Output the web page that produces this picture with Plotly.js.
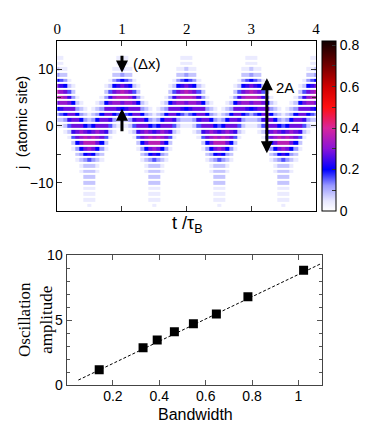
<!DOCTYPE html>
<html>
<head>
<meta charset="utf-8">
<script src="https://cdn.plot.ly/plotly-3.0.1.min.js"></script>
<style>
  html, body { margin: 0; padding: 0; background: #fff; }
  #chart { width: 374px; height: 423px; }
</style>
</head>
<body>
<div id="chart"></div>
<script>
// top panel: density |psi_j(t)|^2, one string per site j (15 .. -15),
// one digit per time step t = k/16, digit * 0.04 = density
var siteJ = [15, 14, 13, 12, 11, 10, 9, 8, 7, 6, 5, 4, 3, 2, 1, 0,
  -1, -2, -3, -4, -5, -6, -7, -8, -9, -10, -11, -12, -13, -14, -15];
var densityRows = [
  "00000000000000000000000000000000000000000000000000000000000000000",
  "00000000000000000000000000000000000000000000000000000000000000000",
  "00000000000000000000000000000000000000000000000000000000000000000",
  "11000000000000011100000000000001110000000000000111000000000000011",
  "11000000000000011100000000000001110000000000000111000000000000011",
  "21100000000000112110000000000011211000000000001121100000000000112",
  "32200000000000223220000000000022322000000000002232200000000000223",
  "54310000000001345431000000000134543100000000013454310000000001345",
  "76521000000012567652100000001256765210000000125676521000000012567",
  "98742000000024789874200000002478987420000000247898742000000024789",
  "99863100000136899986310000013689998631000001368999863100000136899",
  "78875210001257887887521000125788788752100012578878875210001257887",
  "56777321012377765677732101237776567773210123777656777321012377765",
  "34577532123577543457753212357754345775321235775434577532123577543",
  "22367753235776322236775323577632223677532357763222367753235776322",
  "11247775457774211124777545777421112477754577742111247775457774211",
  "00126787678762100012678767876210001267876787621000126787678762100",
  "00014789898741000001478989874100000147898987410000014789898741000",
  "00002579997520000000257999752000000025799975200000002579997520000",
  "00001357875310000000135787531000000013578753100000001357875310000",
  "00000235653200000000023565320000000002356532000000000235653200000",
  "00000123432100000000012343210000000001234321000000000123432100000",
  "00000012221000000000001222100000000000122210000000000012221000000",
  "00000012221000000000001222100000000000122210000000000012221000000",
  "00000002220000000000000222000000000000022200000000000002220000000",
  "00000002220000000000000222000000000000022200000000000002220000000",
  "00000001110000000000000111000000000000011100000000000001110000000",
  "00000001110000000000000111000000000000011100000000000001110000000",
  "00000001110000000000000111000000000000011100000000000001110000000",
  "00000000100000000000000010000000000000001000000000000000100000000",
  "00000000000000000000000000000000000000000000000000000000000000000"
];
var timeSteps = [];
for (var k = 0; k < densityRows[0].length; k++) timeSteps.push(k / 16);
var density = densityRows.map(function (row) {
  return row.split('').map(function (c) { return +c * 0.04; });
});

// bottom panel: oscillation amplitude vs bandwidth
var bandwidth = [0.141, 0.330, 0.391, 0.465, 0.547, 0.646, 0.782, 1.022];
var amplitude = [1.18, 2.87, 3.46, 4.10, 4.72, 5.46, 6.79, 8.82];
var fitX = [0.051, 1.1];
var fitY = [0.38, 9.36];

var cbTicks = [0, 0.1, 0.2, 0.3, 0.4, 0.5, 0.6, 0.7, 0.8];
var cbLabels = ['0', '', '0.2', '', '0.4', '', '0.6', '', '0.8'];

var sans = 'Liberation Sans, Arial, sans-serif';
var serif = 'Liberation Serif, Times New Roman, serif';

var heat = {
  type: 'heatmap',
  x: timeSteps,
  y: siteJ,
  z: density,
  zmin: 0,
  zmax: 0.82,
  ygap: 2,
  hoverinfo: 'skip',
  colorscale: [
    [0, '#ffffff'],
    [0.06, '#e6e6ff'],
    [0.15, '#9898ff'],
    [0.244, '#0000ff'],
    [0.366, '#8a14d8'],
    [0.488, '#d8269c'],
    [0.61, '#ff1010'],
    [0.73, '#d00000'],
    [0.86, '#700000'],
    [1, '#100000']
  ],
  colorbar: {
    x: 322 / 374, xanchor: 'left',
    y: 1 - 211 / 423, yanchor: 'bottom',
    len: 170 / 423, lenmode: 'fraction',
    thickness: 14,
    outlinewidth: 1, outlinecolor: '#000',
    tickvals: cbTicks, ticktext: cbLabels,
    ticks: 'inside', ticklen: 4, tickcolor: '#333',
    tickfont: { family: sans, size: 14, color: '#000' },
    xpad: 0, ypad: 0
  }
};

var fit = {
  type: 'scatter', mode: 'lines',
  x: fitX, y: fitY,
  xaxis: 'x2', yaxis: 'y2',
  line: { color: '#000', width: 1, dash: '3px,2px' },
  hoverinfo: 'skip'
};

var points = {
  type: 'scatter', mode: 'markers',
  x: bandwidth, y: amplitude,
  xaxis: 'x2', yaxis: 'y2',
  marker: { symbol: 'square', size: 9, color: '#000' }
};

var arrowStyle = {
  xref: 'x', yref: 'y', axref: 'x', ayref: 'y',
  text: '', showarrow: true, arrowhead: 2, arrowsize: 0.8, arrowwidth: 3,
  arrowcolor: '#000'
};

function label(x, y, text, font, extra) {
  return Object.assign({
    xref: 'paper', yref: 'paper', x: x / 374, y: 1 - y / 423,
    xanchor: 'center', yanchor: 'middle',
    text: text, showarrow: false, font: font
  }, extra || {});
}

var layout = {
  width: 374, height: 423,
  margin: { l: 0, r: 0, t: 0, b: 0 },
  paper_bgcolor: '#fff', plot_bgcolor: '#fff',
  showlegend: false,
  xaxis: {
    domain: [57.3 / 374, 316 / 374], anchor: 'y',
    range: [0, 4], side: 'top', dtick: 1,
    ticks: 'inside', ticklen: 5, tickcolor: '#333',
    showline: true, linecolor: '#000', linewidth: 1, mirror: 'ticks',
    showgrid: false, zeroline: false,
    tickfont: { family: serif, size: 15, color: '#000' }
  },
  yaxis: {
    domain: [1 - 211 / 423, 1 - 40.7 / 423], anchor: 'x',
    range: [-15, 15], tickvals: [-10, 0, 10],
    ticks: 'inside', ticklen: 5, tickcolor: '#333',
    minor: { dtick: 5, ticks: 'inside', ticklen: 4, tickcolor: '#333' },
    showline: true, linecolor: '#000', linewidth: 1, mirror: 'ticks',
    showgrid: false, zeroline: false,
    tickfont: { family: sans, size: 14, color: '#000' }
  },
  xaxis2: {
    domain: [66.5 / 374, 321.7 / 374], anchor: 'y2',
    range: [0, 1.1], tickvals: [0.2, 0.4, 0.6, 0.8, 1],
    ticktext: ['0.2', '0.4', '0.6', '0.8', '1'],
    ticks: 'inside', ticklen: 5, tickcolor: '#555',
    ticklabelstandoff: -2,
    showline: true, linecolor: '#444', linewidth: 1, mirror: 'ticks',
    showgrid: false, zeroline: false,
    tickfont: { family: sans, size: 14, color: '#000' }
  },
  yaxis2: {
    domain: [1 - 385 / 423, 1 - 255 / 423], anchor: 'x2',
    range: [0, 10], tickvals: [0, 5, 10],
    ticks: 'inside', ticklen: 5, tickcolor: '#555',
    minor: { dtick: 1, ticks: 'inside', ticklen: 3, tickcolor: '#555' },
    showline: true, linecolor: '#444', linewidth: 1, mirror: 'ticks',
    showgrid: false, zeroline: false,
    tickfont: { family: sans, size: 14, color: '#000' }
  },
  annotations: [
    Object.assign({ x: 1, y: 9.4, ax: 1, ay: 12.6 }, arrowStyle),
    Object.assign({ x: 1, y: 3.0, ax: 1, ay: -1.2 }, arrowStyle),
    Object.assign({ x: 3.24, y: 8.4, ax: 3.24, ay: -5.1, arrowside: 'end+start' }, arrowStyle),
    { xref: 'x', yref: 'y', x: 1.38, y: 11.0, xanchor: 'center', yanchor: 'middle',
      text: '(\u0394x)', showarrow: false,
      font: { family: sans, size: 15, color: '#000' } },
    { xref: 'x', yref: 'y', x: 3.52, y: 6.7, xanchor: 'center', yanchor: 'middle',
      text: '2A', showarrow: false,
      font: { family: sans, size: 15, color: '#000' } },
    label(187, 224, 't /\u03c4<sub>B</sub>', { family: sans, size: 18, color: '#000' }),
    label(22, 123, 'j  (atomic site)', { family: sans, size: 15, color: '#000' }, { textangle: -90 }),
    label(35, 320, 'Oscillation<br>amplitude', { family: serif, size: 17, color: '#000' }, { textangle: -90 }),
    label(195, 414, 'Bandwidth', { family: sans, size: 16, color: '#000' }, { borderpad: 0 })
  ]
};

Plotly.newPlot('chart', [heat, fit, points], layout, { staticPlot: true });
</script>
</body>
</html>
